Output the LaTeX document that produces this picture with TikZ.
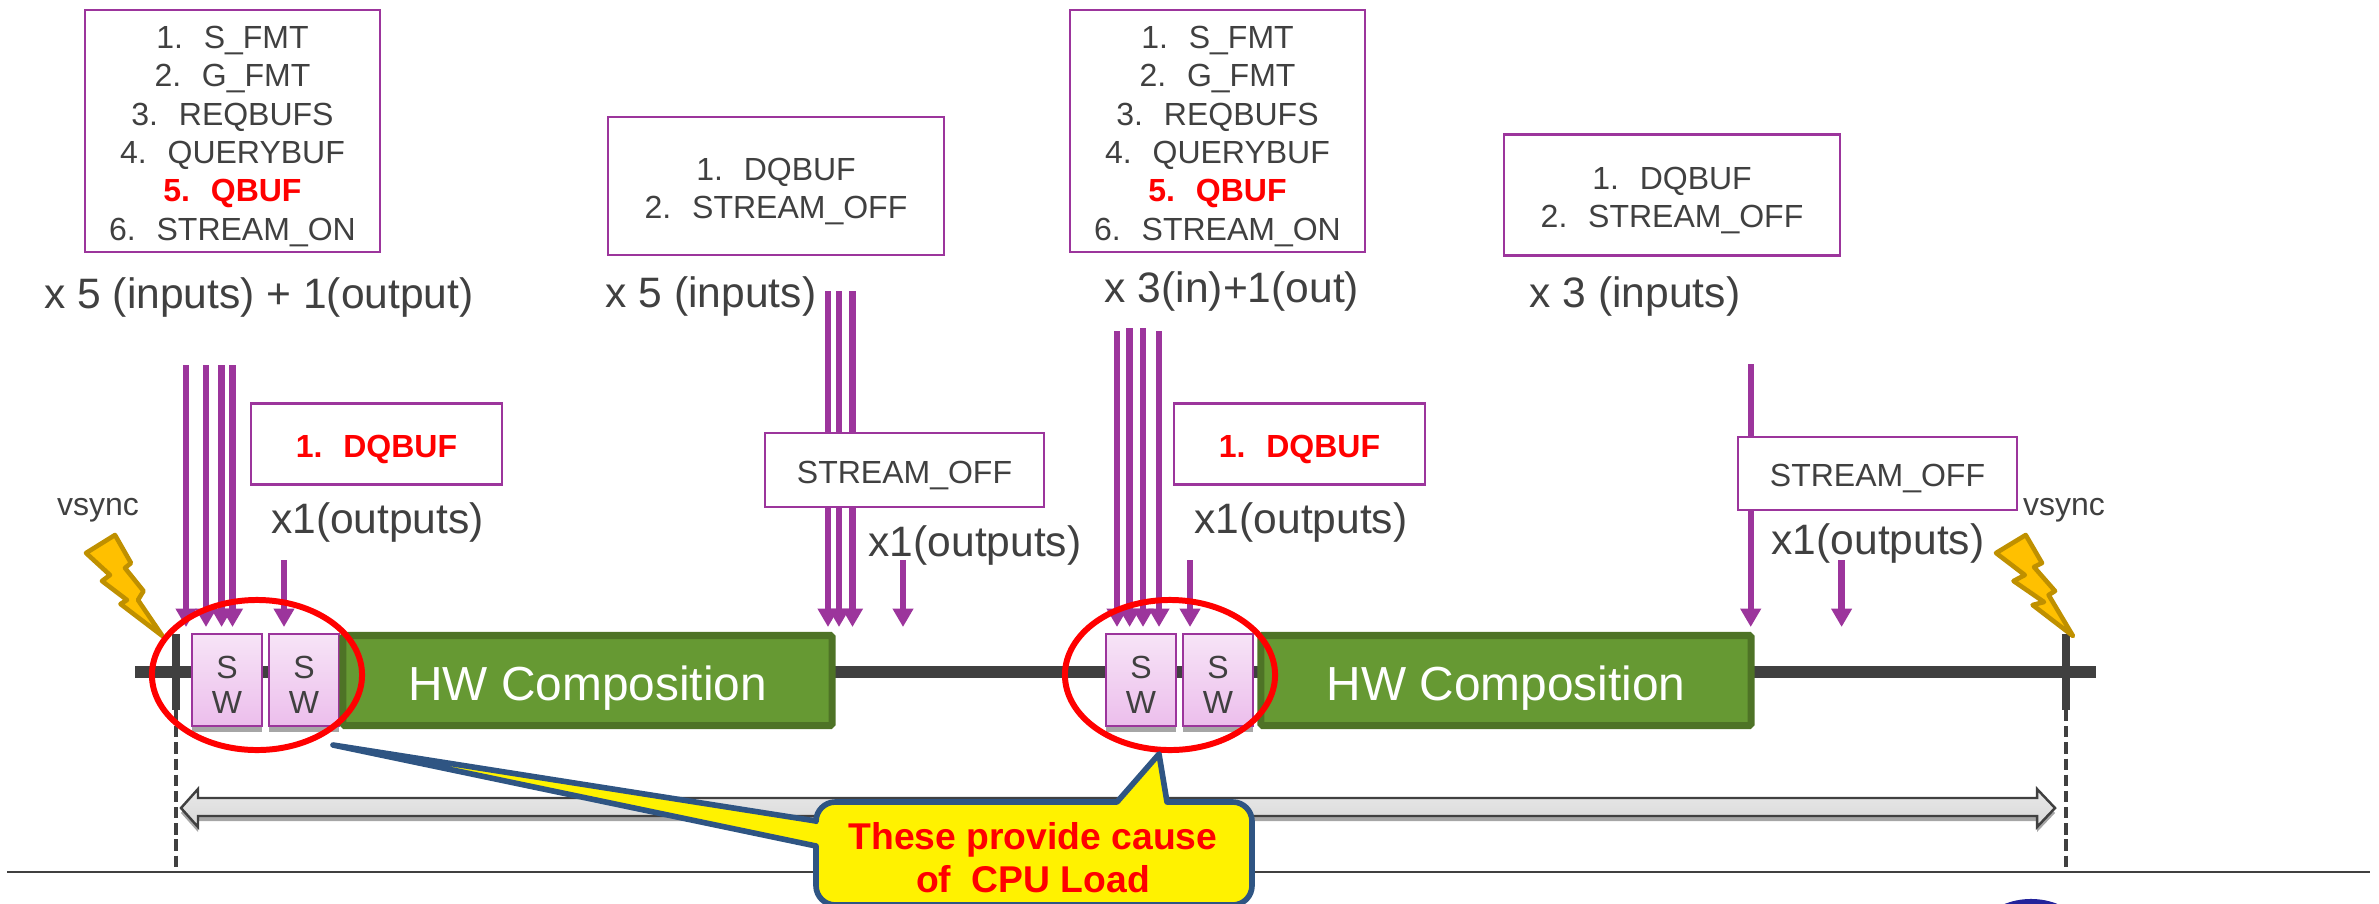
\documentclass[tikz,border=0pt]{standalone}
\usepackage{xcolor}
\usepackage{fontspec}
\setmainfont{Liberation Sans}
\usepackage{tikz}
\usetikzlibrary{arrows.meta,shapes.geometric}
\definecolor{ink}{HTML}{404040}
\definecolor{purp}{HTML}{9C359C}
\definecolor{swtop}{HTML}{F7E4F7}
\definecolor{swbot}{HTML}{ECBEEC}
\definecolor{hwfill}{HTML}{669933}
\definecolor{hwline}{HTML}{4E7326}
\definecolor{boltfill}{HTML}{FFC000}
\definecolor{boltline}{HTML}{BF9000}
\definecolor{noteline}{HTML}{2F5583}
\definecolor{logoblue}{HTML}{23239B}
\tikzstyle{every node}=[text=ink]
\tikzstyle{listbox}=[draw=purp,line width=0.65pt,fill=white,align=center,inner sep=0pt,font=\fontsize{9.1}{10.9}\selectfont]
\tikzstyle{bigtext}=[inner sep=0pt,font=\fontsize{12.1}{14}\selectfont]
\tikzstyle{vsynctext}=[inner sep=0pt,font=\fontsize{9.1}{11}\selectfont]
\tikzstyle{callarrow}=[purp,line width=1.8pt,-{Triangle[length=5.2pt,width=5.6pt]}]
\tikzstyle{swbox}=[draw=purp,line width=0.7pt,top color=swtop,bottom color=swbot,align=center,inner sep=0pt,minimum width=0.7cm,minimum height=0.92cm,font=\fontsize{9.1}{10}\selectfont]
\tikzstyle{hwbox}=[draw=hwline,line width=2pt,fill=hwfill,rounded corners=0.5pt,inner sep=0pt,minimum height=0.9cm,text=white,font=\fontsize{13.6}{15}\selectfont,execute at begin node={\rule{0pt}{14.2pt}}]
\tikzstyle{bolt}=[draw=boltline,fill=boltfill,line width=1.3pt,line join=round]
\tikzstyle{redring}=[draw=red,line width=1.7pt,ellipse,inner sep=0pt,minimum width=2.1cm,minimum height=1.5cm]
\newcommand{\numitem}[2]{#1.\kern0.65em #2}
\newcommand{\dropline}{\rule{0pt}{9.4pt}}
\begin{document}
\begin{tikzpicture}[x=0.01cm,y=-0.01cm]
\useasboundingbox (0,0) rectangle (2379,903);
\clip (0,0) rectangle (2379,903);
% time line
\coordinate (barl) at (135,672);
\coordinate (barr) at (2096,672);
\coordinate (tickla) at (176,634);
\coordinate (ticklb) at (176,710);
\coordinate (ticklc) at (176,868);
\coordinate (tickra) at (2066,634);
\coordinate (tickrb) at (2066,710);
\coordinate (tickrc) at (2066,868);
\coordinate (basel) at (7,872);
\coordinate (baser) at (2370,872);
\draw[ink,line width=3.4pt] (barl) -- (barr);
\draw[ink,line width=2.2pt] (tickla) -- (ticklb);
\draw[ink,line width=2.2pt] (tickra) -- (tickrb);
\draw[ink,line width=1.3pt,dash pattern=on 3.2pt off 1.4pt] (ticklb) -- (ticklc);
\draw[ink,line width=1.3pt,dash pattern=on 3.2pt off 1.4pt] (tickrb) -- (tickrc);
\draw[ink,line width=0.5pt] (basel) -- (baser);
% frame arrow
\fill[gray!70] (181,813) -- (198,794) -- (198,803) -- (2037,803) -- (2037,794) -- (2055,813) -- (2037,832) -- (2037,821) -- (198,821) -- (198,832) -- cycle;
\draw[ink,line width=0.7pt,top color=gray!18,bottom color=gray!30] (181,808) -- (198,789) -- (198,798) -- (2037,798) -- (2037,789) -- (2055,808) -- (2037,827) -- (2037,816) -- (198,816) -- (198,827) -- cycle;
% input and output arrows
\coordinate (tips) at (0,627);
\coordinate (ia1) at (186,365);
\coordinate (ia2) at (206,365);
\coordinate (ia3) at (221.6,365);
\coordinate (ia4) at (232.5,365);
\coordinate (oa) at (284,560);
\coordinate (ib1) at (828,291);
\coordinate (ib2) at (839,291);
\coordinate (ib3) at (852.5,291);
\coordinate (ob) at (903,560);
\coordinate (ic1) at (1117,331);
\coordinate (ic2) at (1129.6,328);
\coordinate (ic3) at (1143,328);
\coordinate (ic4) at (1159,331);
\coordinate (oc) at (1190,560);
\coordinate (id) at (1750.7,364);
\coordinate (od) at (1841.6,560);
\draw[callarrow] (ia1) -- (ia1 |- tips);
\draw[callarrow] (ia2) -- (ia2 |- tips);
\draw[callarrow] (ia3) -- (ia3 |- tips);
\draw[callarrow] (ia4) -- (ia4 |- tips);
\draw[callarrow] (oa) -- (oa |- tips);
\draw[callarrow] (ib1) -- (ib1 |- tips);
\draw[callarrow] (ib2) -- (ib2 |- tips);
\draw[callarrow] (ib3) -- (ib3 |- tips);
\draw[callarrow] (ob) -- (ob |- tips);
\draw[callarrow] (ic1) -- (ic1 |- tips);
\draw[callarrow] (ic2) -- (ic2 |- tips);
\draw[callarrow] (ic3) -- (ic3 |- tips);
\draw[callarrow] (ic4) -- (ic4 |- tips);
\draw[callarrow] (oc) -- (oc |- tips);
\draw[callarrow] (id) -- (id |- tips);
\draw[callarrow] (od) -- (od |- tips);
% ioctl boxes
\node[listbox,minimum width=2.95cm,minimum height=2.42cm] (setupa) at (232.5,131) {\dropline\numitem{1}{S\_FMT}\\\numitem{2}{G\_FMT}\\\numitem{3}{REQBUFS}\\\numitem{4}{QUERYBUF}\\\textcolor{red}{\bfseries\numitem{5}{QBUF}}\\\numitem{6}{STREAM\_ON}};
\node[listbox,minimum width=2.95cm,minimum height=2.42cm] (setupb) at (1217.5,131) {\dropline\numitem{1}{S\_FMT}\\\numitem{2}{G\_FMT}\\\numitem{3}{REQBUFS}\\\numitem{4}{QUERYBUF}\\\textcolor{red}{\bfseries\numitem{5}{QBUF}}\\\numitem{6}{STREAM\_ON}};
\node[listbox,minimum width=3.36cm,minimum height=1.38cm] (teara) at (776,186) {\dropline\numitem{1}{DQBUF}\\\numitem{2}{STREAM\_OFF}};
\node[listbox,minimum width=3.36cm,minimum height=1.21cm] (tearb) at (1672,195) {\dropline\numitem{1}{DQBUF}\\\numitem{2}{STREAM\_OFF}};
\node[listbox,minimum width=2.51cm,minimum height=0.81cm] (dqa) at (376.5,444) {\dropline\textcolor{red}{\bfseries\numitem{1}{DQBUF}}};
\node[listbox,minimum width=2.51cm,minimum height=0.81cm] (dqb) at (1299.5,444) {\dropline\textcolor{red}{\bfseries\numitem{1}{DQBUF}}};
\node[listbox,minimum width=2.79cm,minimum height=0.74cm] (offa) at (904.5,470) {\dropline STREAM\_OFF};
\node[listbox,minimum width=2.79cm,minimum height=0.73cm] (offb) at (1877.5,473.5) {\dropline STREAM\_OFF};
% counts
\node[bigtext] (counta) at (259,297.5) {x 5 (inputs) + 1(output)};
\node[bigtext] (countb) at (711,296.5) {x 5 (inputs)};
\node[bigtext] (countc) at (1232,291) {x 3(in)+1(out)};
\node[bigtext] (countd) at (1635,296) {x 3 (inputs)};
\node[bigtext] (outa) at (377.5,522) {x1(outputs)};
\node[bigtext] (outb) at (975,545) {x1(outputs)};
\node[bigtext] (outc) at (1301,522) {x1(outputs)};
\node[bigtext] (outd) at (1878,543) {x1(outputs)};
\node[vsynctext] (vsynca) at (98,510) {vsync};
\node[vsynctext] (vsyncb) at (2064,510) {vsync};
% bolts
\draw[bolt] (115,535) -- (86,553) -- (110,575) -- (102,581) -- (127,600) -- (120.5,604) -- (162.5,636) -- (138,600) -- (143.5,591) -- (125,568) -- (131,563) -- cycle;
\draw[bolt] (2025.7,535) -- (1996,553) -- (2024.8,575) -- (2013.5,581) -- (2044,602) -- (2032.6,605) -- (2073,636) -- (2048.6,595) -- (2055,591) -- (2034,567) -- (2042,563) -- cycle;
% sw slices
\fill[gray!70] (192,640) rectangle (262,732);
\fill[gray!70] (269,640) rectangle (339,732);
\fill[gray!70] (1106,640) rectangle (1176,732);
\fill[gray!70] (1183,640) rectangle (1252.5,732);
\node[swbox] (swa) at (227,680) {\rule{0pt}{8.9pt}S\\W};
\node[swbox] (swb) at (304,680) {\rule{0pt}{8.9pt}S\\W};
\node[swbox] (swc) at (1141,680) {\rule{0pt}{8.9pt}S\\W};
\node[swbox] (swd) at (1218,680) {\rule{0pt}{8.9pt}S\\W};
\node[hwbox,minimum width=4.89cm] (hwa) at (587.5,680.5) {HW Composition};
\node[hwbox,minimum width=4.90cm] (hwb) at (1506,680.5) {HW Composition};
% load rings
\node[redring] (ringa) at (257,675) {};
\node[redring] (ringb) at (1170,675) {};
% callout
\draw[draw=noteline,fill=yellow,line width=1.6pt,line join=round] (816,821) -- (333,745) -- (816,846) [rounded corners=5.5pt] -- (816,905) -- (1252,905) -- (1252,802) [sharp corners] -- (1167,802) -- (1159,754) -- (1117,802) [rounded corners=5.5pt] -- (816,802) [sharp corners] -- cycle;
\node[align=center,inner sep=0pt,text=red,font=\fontsize{10.6}{12.3}\selectfont\bfseries] (note) at (1033,858) {These provide cause\\of\ \ CPU Load};
% logo edge
\fill[logoblue] (2031,971) circle (0.72cm);
\end{tikzpicture}
\end{document}
